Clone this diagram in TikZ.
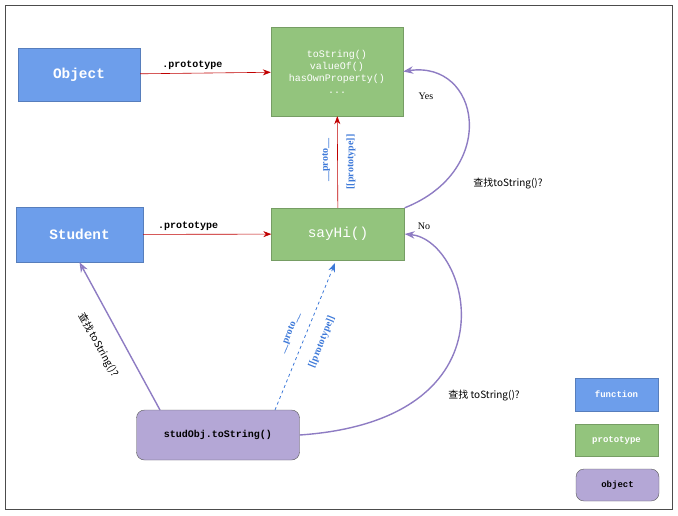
\documentclass[tikz,border=0pt]{standalone}
\usepackage{fontspec}
\setmainfont{Liberation Serif}
\setmonofont{Liberation Mono}
\newfontfamily\cjk{Noto Sans CJK SC}
\usetikzlibrary{arrows.meta,positioning}
\definecolor{fnblue}{HTML}{6D9EEB}
\definecolor{protogreen}{HTML}{93C47D}
\definecolor{objpurple}{HTML}{B4A7D6}
\definecolor{linkpurple}{HTML}{8E7CC3}
\definecolor{protoblue}{HTML}{3C78D8}
\definecolor{arrred}{HTML}{C00000}
\tikzset{
  fnbox/.style={draw=fnblue!80!black,fill=fnblue,text=white,font=\ttfamily\bfseries\Large,minimum width=122pt,minimum height=53pt},
  protobox/.style={draw=protogreen!80!black,fill=protogreen,text=white,font=\ttfamily,minimum width=132pt},
  objbox/.style={draw=gray!70!black,fill=objpurple,rounded corners=8pt,font=\ttfamily\bfseries},
  redarrow/.style={draw=arrred,semithick,-{Stealth[length=8pt]}},
  purplearrow/.style={draw=linkpurple,line width=1.4pt,-{Stealth[length=10pt,open]}},
  lbl/.style={font=\ttfamily\bfseries},
  protolbl/.style={text=protoblue,font=\bfseries}
}
\begin{document}
\begin{tikzpicture}[x=1pt,y=-1pt]
  \useasboundingbox (0,0) rectangle (678,515);
  \draw[gray!60!black] (5,5) rectangle (672,509);
  % constructors and prototypes
  \node[fnbox] (object) at (79,74.5) {Object};
  \node[protobox,minimum height=89pt,align=center] (objproto) at (337,71.5)
    {toString()\\valueOf()\\hasOwnProperty()\\...};
  \node[fnbox,minimum width=127pt,minimum height=55pt] (student) at (79.5,234.5) {Student};
  \node[protobox,minimum width=133pt,minimum height=52pt,font=\ttfamily\Large] (sayhi) at (338,234) {sayHi()};
  \node[objbox,minimum width=163pt,minimum height=50pt] (studobj) at (218,435) {studObj.toString()};
  % legend
  \node[fnbox,minimum width=83pt,minimum height=33pt,font=\ttfamily\bfseries\small] (legfn) at (616.5,394.5) {function};
  \node[protobox,minimum width=83pt,minimum height=32pt,font=\ttfamily\bfseries\small] (legproto) at (616.5,440) {prototype};
  \node[objbox,minimum width=83pt,minimum height=32pt,font=\ttfamily\bfseries\small] (legobj) at (617.5,485) {object};
  % prototype links
  \draw[redarrow] (object) -- node[above,lbl,pos=0.4] {.prototype} (objproto);
  \draw[redarrow] (student) -- node[above,lbl,pos=0.35] {.prototype} (sayhi);
  \draw[redarrow] (sayhi) -- (objproto);
  \node[protolbl,rotate=90] (upproto) at (326,160) {\_\_proto\_\_};
  \node[protolbl,rotate=90] (upslot) at (351,162) {[[prototype]]};
  \coordinate (dashfrom) at (275,410);
  \coordinate (dashto) at (335,263);
  \draw[protoblue,thick,dashed,-{Stealth[length=9pt]}] (dashfrom) -- (dashto);
  \node[protolbl,rotate=68] (dnproto) at (290,333) {\_\_proto\_\_};
  \node[protolbl,rotate=68] (dnslot) at (322,342) {[[prototype]]};
  % lookup
  \coordinate (lookfrom) at (160,410);
  \draw[purplearrow] (lookfrom) -- (student.south);
  \node[font=\cjk,rotate=-61] (look3) at (98,345) {查找 toString()?};
  \draw[purplearrow] (studobj.east) .. controls (520,420) and (470,240) .. (sayhi.east);
  \node[font=\cjk] (look2) at (484,396) {查找 toString()?};
  \draw[purplearrow] (sayhi.north east) .. controls (500,170) and (480,60) .. (objproto.east);
  \node[font=\cjk] (look1) at (508,184) {查找toString()?};
  \node (no) at (424,226) {No};
  \node (yes) at (426,96) {Yes};
\end{tikzpicture}
\end{document}
